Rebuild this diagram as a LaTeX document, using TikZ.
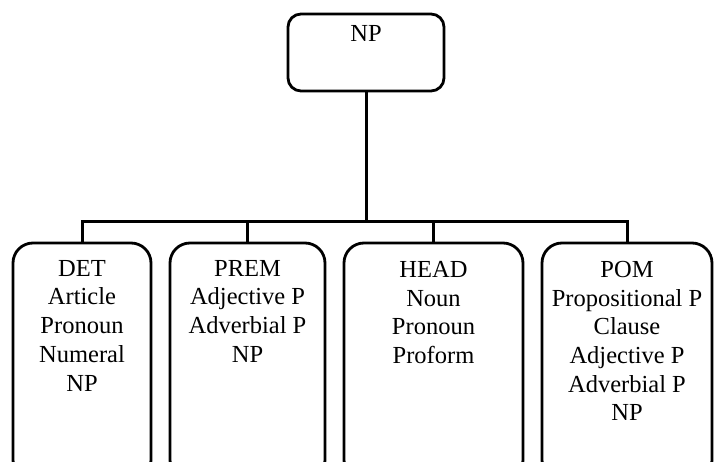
\documentclass[tikz,border=0pt]{standalone}
\usepackage{fontspec}
\setmainfont{Liberation Serif}
\begin{document}
\begin{tikzpicture}[x=1pt,y=-1pt,
  box/.style={draw, line width=2.8pt, rounded corners=20pt, inner sep=0pt},
  topbox/.style={box, rounded corners=13pt, minimum width=156pt, minimum height=77pt},
  leafbox/.style={box, minimum height=237pt},
  lbl/.style={anchor=north, inner sep=0pt, align=center, font=\fontsize{24.5}{28.7}\selectfont},
  conn/.style={line width=3pt}]
\useasboundingbox (0,0) rectangle (715,461);
\clip (0,0) rectangle (715,461);
\fill[white] (0,0) rectangle (715,461);
% boxes
\node[topbox] (np) at (366,52.5) {};
\node[leafbox, minimum width=138pt] (b1) at (82,361.5) {};
\node[leafbox, minimum width=155pt] (b2) at (247.5,361.5) {};
\node[leafbox, minimum width=179pt] (b3) at (433.5,361.5) {};
\node[leafbox, minimum width=170pt] (b4) at (627,361.5) {};
% labels
\node[lbl] (tnp) at (366,25) {NP};
\node[lbl] (t1) at (82,260) {DET\\Article\\Pronoun\\Numeral\\NP};
\node[lbl] (t2) at (247.5,260) {PREM\\Adjective P\\Adverbial P\\NP};
\node[lbl] (t3) at (433.5,261) {HEAD\\Noun\\Pronoun\\Proform};
\node[lbl] (t4) at (627,261) {POM\\Propositional P\\Clause\\Adjective P\\Adverbial P\\NP};
% connectors
\coordinate (bar) at (366,221);
\draw[conn] (np.south) -- (bar);
\draw[conn] (b1.north) |- (bar) -| (b4.north);
\draw[conn] (b2.north) -- (b2.north |- bar);
\draw[conn] (b3.north) -- (b3.north |- bar);
\end{tikzpicture}
\end{document}
